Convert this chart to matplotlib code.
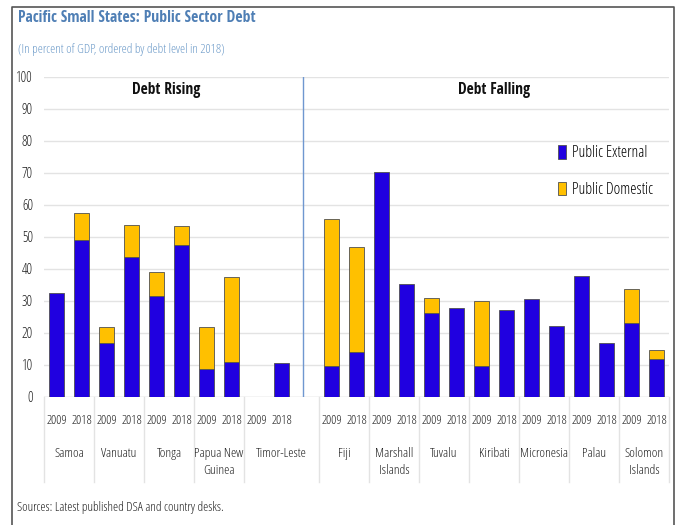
import numpy as np
import matplotlib
matplotlib.use("Agg")
import matplotlib.pyplot as plt
from matplotlib.lines import Line2D
from matplotlib.patches import Patch

plt.rcParams['font.family'] = ['Open Sans', 'DejaVu Sans']
plt.rcParams['font.stretch'] = 'condensed'
BOLD = dict(family=['Open Sans Condensed', 'Open Sans', 'DejaVu Sans'],
            fontweight='bold', fontstretch='condensed')

# ---- data -------------------------------------------------------------
rising = ["Samoa", "Vanuatu", "Tonga", "Papua New\nGuinea", "Timor-Leste"]
falling = ["Fiji", "Marshall\nIslands", "Tuvalu", "Kiribati", "Micronesia",
           "Palau", "Solomon\nIslands"]
years = ["2009", "2018"]

# public external / domestic debt, % of GDP (nan = no data)
ext_2009 = [32.5, 16.8, 31.6, 8.8, np.nan,
            9.7, 70.4, 26.1, 9.8, 30.7, 37.8, 23.2]
dom_2009 = [0.0, 5.2, 7.4, 13.2, np.nan,
            46.0, 0.0, 4.9, 20.2, 0.0, 0.0, 10.6]
ext_2018 = [49.1, 43.6, 47.5, 11.0, 10.7,
            14.2, 35.3, 27.7, 27.2, 22.3, 16.8, 12.0]
dom_2018 = [8.3, 10.1, 5.9, 26.6, 0.0,
            32.6, 0.0, 0.0, 0.0, 0.0, 0.0, 2.6]

y_ticks = list(range(0, 101, 10))

# ---- layout of slots: two bars per country, one empty slot after the rising group
countries = rising + falling
pos_2009, pos_2018, group_edges = [], [], [-0.5]
slot = 0
for i, c in enumerate(countries):
    pos_2009.append(slot)
    pos_2018.append(slot + 1)
    slot += 2
    if i == len(rising) - 1:
        gap_slot = slot
        slot += 1
    group_edges.append(slot - 0.5)
n_slots = slot

C_EXT = "#2000E0"
C_DOM = "#FFC000"
EDGE = "#505050"
GRID = "#e3e3e3"
TXT = "#1e1e1e"

fig = plt.figure(figsize=(6.83, 5.25), dpi=100)
ax = fig.add_axes([44 / 683, 128 / 525, 625 / 683, 320 / 525])

def nz(a):
    a = np.asarray(a, dtype=float)
    return np.where(a > 0, a, np.nan)

w = 0.58
kw = dict(width=w, edgecolor=EDGE, linewidth=0.6, zorder=3)
ax.bar(pos_2009, nz(ext_2009), color=C_EXT, **kw)
ax.bar(pos_2009, nz(dom_2009), bottom=np.nan_to_num(ext_2009), color=C_DOM, **kw)
ax.bar(pos_2018, nz(ext_2018), color=C_EXT, **kw)
ax.bar(pos_2018, nz(dom_2018), bottom=np.nan_to_num(ext_2018), color=C_DOM, **kw)

ax.set_xlim(-0.5, n_slots - 0.5)
ax.set_ylim(0, 100)
ax.set_yticks(y_ticks)
ax.set_yticklabels([str(t) for t in y_ticks], fontsize=10, color=TXT)
ax.tick_params(axis="y", length=0, pad=8)
ax.set_xticks([])
for s in ax.spines.values():
    s.set_visible(False)
ax.grid(axis="y", color=GRID, linewidth=1.0, zorder=0)
ax.axhline(0, color=GRID, linewidth=1.0, zorder=1)

# divider between the two groups
ax.plot([gap_slot - 0.13, gap_slot - 0.13], [0, 100], color="#6f97d0",
        linewidth=1.0, zorder=2)

# group headers
ax.text(np.mean([pos_2009[0], pos_2018[len(rising) - 1]]) - 0.1, 96, "Debt Rising",
        ha="center", va="center", fontsize=11.2, color="#111111", **BOLD)
ax.text(np.mean([pos_2009[len(rising)], pos_2018[-1]]), 96, "Debt Falling",
        ha="center", va="center", fontsize=11.2, color="#111111", **BOLD)

# category axis: separators, years, country names
for e in group_edges:
    ax.plot([e, e], [0, -26.6], color=GRID, linewidth=1.0, clip_on=False)
for p9, p18 in zip(pos_2009, pos_2018):
    ax.text(p9, -7.3, years[0], ha="center", va="center", fontsize=9.4, color=TXT)
    ax.text(p18, -7.3, years[1], ha="center", va="center", fontsize=9.4, color=TXT)
for i, c in enumerate(countries):
    left = group_edges[i]
    right = group_edges[i + 1]
    ax.text((left + right) / 2, -15.5, c, ha="center", va="top", fontsize=9.6,
            color=TXT, linespacing=1.42)

# legend
handles = [Patch(facecolor=C_EXT, edgecolor=EDGE, linewidth=0.6, label="Public External"),
           Patch(facecolor=C_DOM, edgecolor=EDGE, linewidth=0.6, label="Public Domestic")]
ax.legend(handles=handles, loc="upper left", bbox_to_anchor=(0.813, 0.807),
          frameon=False, fontsize=11.3, handlelength=0.5, handleheight=0.95,
          handletextpad=0.35, labelspacing=1.3, borderaxespad=0)

# titles and source
fig.text(18 / 683, 1 - 18 / 525, "Pacific Small States: Public Sector Debt",
         ha="left", va="center", fontsize=11.3, color="#4f7fb5", **BOLD)
fig.text(18 / 683, 1 - 49 / 525, "(In percent of GDP, ordered by debt level in 2018)",
         ha="left", va="center", fontsize=9.4, color="#6d9bc9")
fig.text(17 / 683, 1 - 508 / 525, "Sources: Latest published DSA and country desks.",
         ha="left", va="center", fontsize=9.4, color=TXT)

# outer frame (open at the bottom)
fx0, fx1, fy1 = 12 / 683, 674 / 683, 1 - 7 / 525
fig.add_artist(Line2D([fx0, fx0, fx1, fx1], [0, fy1, fy1, 0],
                      transform=fig.transFigure, color="#555555", linewidth=1.2))

fig.savefig("out.png", dpi=100)
